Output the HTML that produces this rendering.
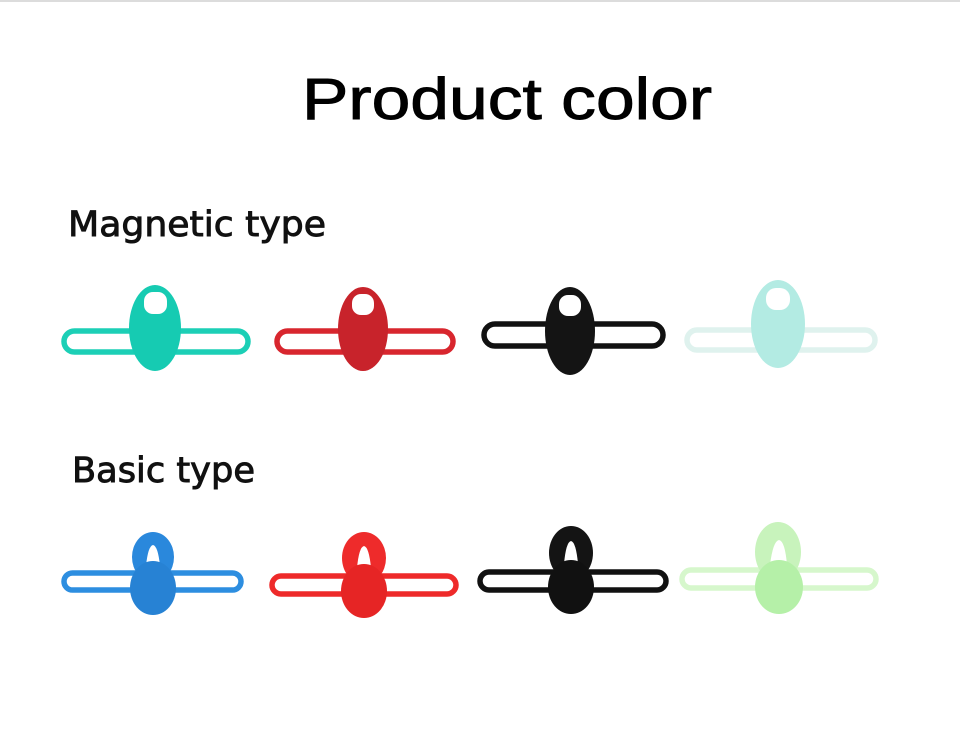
<!DOCTYPE html>
<html><head><meta charset="utf-8"><style>
html,body{margin:0;padding:0;background:#fff;}
svg{display:block;}
</style></head><body>
<svg width="960" height="752" viewBox="0 0 960 752" xmlns="http://www.w3.org/2000/svg">
<rect x="0" y="0" width="960" height="2" fill="#dcdcdc"/>
<text x="302" y="119" font-family="Liberation Sans, sans-serif" font-size="58" textLength="410" lengthAdjust="spacingAndGlyphs" fill="#000" stroke="#000" stroke-width="0.9">Product color</text>
<text x="68" y="236" font-family="DejaVu Sans, sans-serif" font-size="35" textLength="258" lengthAdjust="spacingAndGlyphs" fill="#111" stroke="#111" stroke-width="0.9">Magnetic type</text>
<text x="72" y="482" font-family="DejaVu Sans, sans-serif" font-size="35" textLength="183" lengthAdjust="spacingAndGlyphs" fill="#111" stroke="#111" stroke-width="0.9">Basic type</text>

<!-- magnetic -->
<g>
 <rect x="64" y="331" width="184" height="21" rx="10.5" fill="none" stroke="#1ccfb6" stroke-width="5.5"/>
 <ellipse cx="155" cy="328" rx="26" ry="43" fill="#16cbb2"/>
 <rect x="144" y="292" width="23" height="22" rx="9" fill="#fff"/>
</g>
<g>
 <rect x="277" y="331" width="176" height="21" rx="10.5" fill="none" stroke="#d8262e" stroke-width="5.5"/>
 <ellipse cx="363" cy="329" rx="25" ry="42" fill="#c8232b"/>
 <rect x="352" y="294" width="22" height="21" rx="9" fill="#fff"/>
</g>
<g>
 <rect x="484" y="324" width="179" height="22" rx="11" fill="none" stroke="#111" stroke-width="5.5"/>
 <ellipse cx="570" cy="331" rx="25" ry="44" fill="#141414"/>
 <rect x="559" y="295" width="22" height="21" rx="9" fill="#fff"/>
</g>
<g>
 <rect x="687" y="330" width="188" height="20" rx="10" fill="none" stroke="#dff2ee" stroke-width="5.5"/>
 <ellipse cx="778" cy="324" rx="27" ry="44" fill="#b3ebe3"/>
 <rect x="766" y="288" width="24" height="22" rx="10" fill="#fff"/>
</g>

<!-- basic -->
<g>
 <rect x="64" y="573" width="177" height="17" rx="8.5" fill="none" stroke="#2d8ee0" stroke-width="5.5"/>
 <ellipse cx="153" cy="557" rx="21" ry="25" fill="#2a88dc"/>
 <path d="M146 566 Q148 546 153 545 Q158 546 160 566 Q153 562 146 566Z" fill="#fff"/>
 <ellipse cx="153" cy="588" rx="23" ry="27" fill="#2782d4"/>
</g>
<g>
 <rect x="272" y="576" width="184" height="18" rx="9" fill="none" stroke="#ee2a2a" stroke-width="5.5"/>
 <ellipse cx="364" cy="558" rx="22" ry="26" fill="#ee2b2b"/>
 <path d="M357 568 Q359 547 364 546 Q369 547 371 568 Q364 564 357 568Z" fill="#fff"/>
 <ellipse cx="364" cy="591" rx="23" ry="27" fill="#e62525"/>
</g>
<g>
 <rect x="480" y="572" width="186" height="18" rx="9" fill="none" stroke="#111" stroke-width="5.5"/>
 <ellipse cx="571" cy="553" rx="22" ry="27" fill="#141414"/>
 <path d="M564 564 Q566 542 571 541 Q576 542 578 564 Q571 560 564 564Z" fill="#fff"/>
 <ellipse cx="571" cy="587" rx="23" ry="27" fill="#111"/>
</g>
<g>
 <rect x="682" y="570" width="194" height="18" rx="9" fill="none" stroke="#d6f7cc" stroke-width="5.5"/>
 <ellipse cx="778" cy="552" rx="23" ry="30" fill="#c8f3bc"/>
 <path d="M770 565 Q773 541 779 540 Q785 541 787 565 Q779 561 770 565Z" fill="#fff"/>
 <ellipse cx="779" cy="587" rx="24" ry="27" fill="#b5f0a8"/>
</g>
</svg>
</body></html>
